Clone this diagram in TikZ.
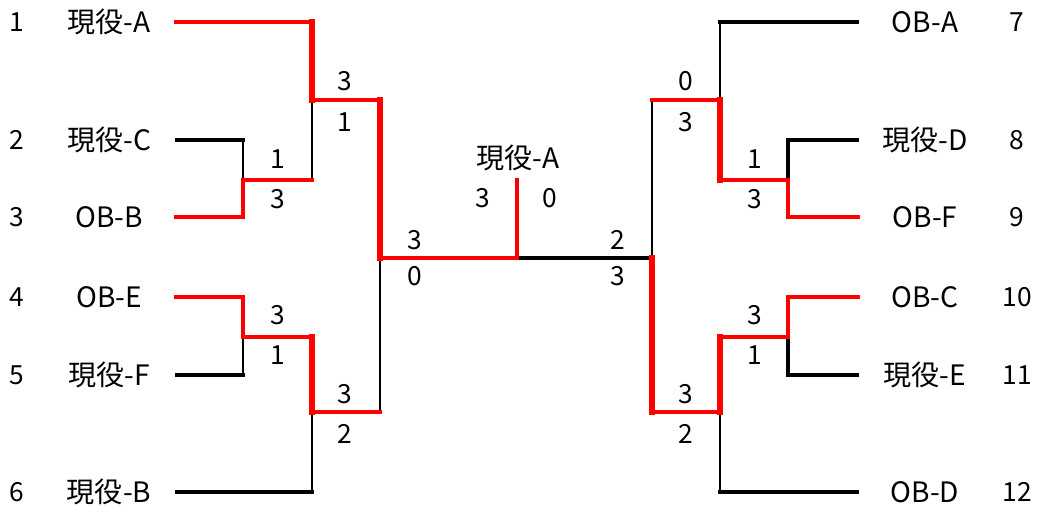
\documentclass[tikz,border=0pt]{standalone}
\usepackage{fontspec}
\setmainfont{Noto Sans CJK JP}
\usepackage{tikz}

\begin{document}
\begin{tikzpicture}[x=0.02cm,y=-0.02cm,
  player/.style={minimum width=2.68cm,inner sep=0pt,font=\fontsize{16}{18}\selectfont},
  seed/.style={inner sep=0pt,font=\fontsize{15}{17}\selectfont},
  score/.style={inner sep=0pt,font=\fontsize{15}{17}\selectfont},
  win/.style={draw=red,line width=2.5pt,line cap=rect},
  winv/.style={draw=red,line width=3.6pt,line cap=rect},
  lose/.style={draw=black,line width=2pt,line cap=rect},
  losev/.style={draw=black,line width=1.3pt,line cap=rect}]
\useasboundingbox (0,0) rectangle (1038,507);

\node[seed] (k1) at (17,22) {1};
\node[seed] (k2) at (17,140) {2};
\node[seed] (k3) at (17,217) {3};
\node[seed] (k4) at (17,297) {4};
\node[seed] (k5) at (17,375) {5};
\node[seed] (k6) at (17,492) {6};
\node[seed] (k7) at (1017,22) {7};
\node[seed] (k8) at (1017,140) {8};
\node[seed] (k9) at (1017,217) {9};
\node[seed] (k10) at (1017,297) {10};
\node[seed] (k11) at (1017,375) {11};
\node[seed] (k12) at (1017,492) {12};

\node[player] (n1) at (109,22) {現役-A};
\node[player] (n2) at (109,140) {現役-C};
\node[player] (n3) at (109,217) {OB-B};
\node[player] (n4) at (109,297) {OB-E};
\node[player] (n5) at (109,375) {現役-F};
\node[player] (n6) at (109,492) {現役-B};
\node[player] (n7) at (925,22) {OB-A};
\node[player] (n8) at (925,140) {現役-D};
\node[player] (n9) at (925,217) {OB-F};
\node[player] (n10) at (925,297) {OB-C};
\node[player] (n11) at (925,375) {現役-E};
\node[player] (n12) at (925,492) {OB-D};
\node[player] (champ) at (518,158) {現役-A};

\coordinate (a23) at (243,180);
\coordinate (a123) at (312,100);
\coordinate (a45) at (243,337);
\coordinate (a456) at (312,412);
\coordinate (sL) at (380,258);
\coordinate (fin) at (517,258);
\coordinate (top) at (517,180);
\coordinate (sR) at (652,258);
\coordinate (b789) at (720,100);
\coordinate (b89) at (788,180);
\coordinate (b101112) at (720,412);
\coordinate (b1011) at (788,337);

\draw[lose] (n2.east) -- (n2.east -| a23);
\draw[losev] (n2.east -| a23) -- (a23);
\draw[losev] (a23 -| a123) -- (a123);
\draw[lose] (n5.east) -- (n5.east -| a45);
\draw[losev] (n5.east -| a45) -- (a45);
\draw[lose] (n6.east) -- (n6.east -| a456);
\draw[losev] (n6.east -| a456) -- (a456);
\draw[losev] (a456 -| sL) -- (sL);
\draw[lose] (fin) -- (sR);
\draw[losev] (b789 -| sR) -- (sR);
\draw[lose] (n7.west) -- (n7.west -| b789);
\draw[losev] (n7.west -| b789) -- (b789);
\draw[lose] (n8.west) -| (b89);
\draw[lose] (n11.west) -| (b1011);
\draw[lose] (n12.west) -- (n12.west -| b101112);
\draw[losev] (n12.west -| b101112) -- (b101112);

\draw[win] (n1.east) -- (n1.east -| a123);
\draw[winv] (n1.east -| a123) -- (a123);
\draw[win] (n3.east) -| (a23) -- (a23 -| a123);
\draw[win] (a123) -- (a123 -| sL);
\draw[winv] (a123 -| sL) -- (sL);
\draw[win] (n4.east) -| (a45) -- (a45 -| a456);
\draw[winv] (a45 -| a456) -- (a456);
\draw[win] (a456) -- (a456 -| sL);
\draw[win] (sL) -- (fin) -- (top);
\draw[winv] (sR) -- (b101112 -| sR);
\draw[win] (b101112 -| sR) -- (b101112);
\draw[winv] (b101112) -- (b1011 -| b101112);
\draw[win] (b1011 -| b101112) -- (b1011) |- (n10.west);
\draw[win] (b789 -| sR) -- (b789);
\draw[winv] (b789) -- (b89 -| b789);
\draw[win] (b89 -| b789) -- (b89) |- (n9.west);

\node[score] (r1u) at (278,159) {1};
\node[score] (r1d) at (278,199) {3};
\node[score] (r2u) at (345,81) {3};
\node[score] (r2d) at (345,122) {1};
\node[score] (r3u) at (278,315) {3};
\node[score] (r3d) at (278,355) {1};
\node[score] (r4u) at (345,394) {3};
\node[score] (r4d) at (345,434) {2};
\node[score] (r5u) at (415,240) {3};
\node[score] (r5d) at (415,276) {0};
\node[score] (f1) at (483,198) {3};
\node[score] (f2) at (550,198) {0};
\node[score] (r6u) at (618,240) {2};
\node[score] (r6d) at (618,276) {3};
\node[score] (r7u) at (686,81) {0};
\node[score] (r7d) at (686,122) {3};
\node[score] (r8u) at (755,159) {1};
\node[score] (r8d) at (755,199) {3};
\node[score] (r9u) at (755,315) {3};
\node[score] (r9d) at (755,355) {1};
\node[score] (r10u) at (686,394) {3};
\node[score] (r10d) at (686,434) {2};
\end{tikzpicture}
\end{document}
